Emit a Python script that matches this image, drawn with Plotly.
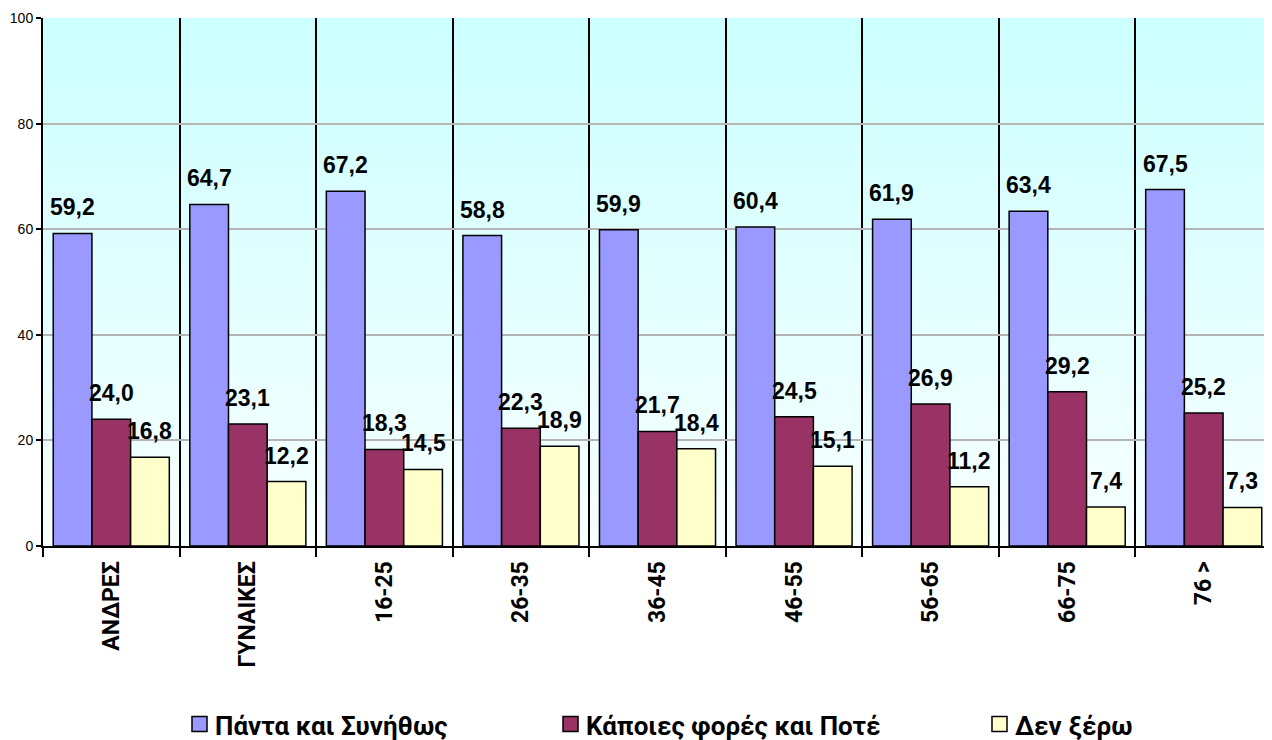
import base64
import plotly.graph_objects as go

categories = ["ΑΝΔΡΕΣ", "ΓΥΝΑΙΚΕΣ", "16-25", "26-35", "36-45", "46-55", "56-65", "66-75", "76 >"]
series_names = ["Πάντα και Συνήθως", "Κάποιες φορές και Ποτέ", "Δεν ξέρω"]
always = [59.2, 64.7, 67.2, 58.8, 59.9, 60.4, 61.9, 63.4, 67.5]
sometimes = [24.0, 23.1, 18.3, 22.3, 21.7, 24.5, 26.9, 29.2, 25.2]
dont_know = [16.8, 12.2, 14.5, 18.9, 18.4, 15.1, 11.2, 7.4, 7.3]
colors = ["#9999FF", "#993366", "#FFFFCC"]
y_ticks = [0, 20, 40, 60, 80, 100]

# page layout (the html body adds an 8px offset)
W, H = 1264, 732
margin = dict(l=35, r=0, t=10, b=194, autoexpand=False)
bargap = 0.15
font_family = "Liberation Sans, Arial, sans-serif"
greek_family = "Roboto, Noto Sans, DejaVu Sans, sans-serif"

series = [always, sometimes, dont_know]

fig = go.Figure()
for name, vals, col in zip(series_names, series, colors):
    fig.add_trace(go.Bar(
        x=categories, y=vals, name=name,
        marker=dict(color=col, line=dict(color="black", width=1.5)),
    ))

plot_w = W - margin["l"] - margin["r"]
plot_h = H - margin["t"] - margin["b"]

# data labels
bar_px = plot_w / len(categories) * (1 - bargap) / len(series)
annotations = []
for si, vals in enumerate(series):
    shift = (si - 1) * bar_px
    for c, v in zip(categories, vals):
        annotations.append(dict(
            x=c, y=v, xref="x", yref="y", text="<b>" + f"{v:.1f}".replace(".", ",") + "</b>",
            showarrow=False, xshift=shift, yshift=11, yanchor="bottom",
            font=dict(family=font_family, size=23, color="black"),
        ))

# custom bottom legend (bold text, Excel-like spacing)
def fx(px):
    return px / plot_w

def fy(py):
    return -py / plot_h

legend_marker_left = [149, 520, 949]      # px from plot-area left edge
legend_center_below = 178                  # px below the x axis
marker_size = 15
shapes = []
for left, name, col in zip(legend_marker_left, series_names, colors):
    shapes.append(dict(
        type="rect", xref="paper", yref="paper",
        x0=fx(left), x1=fx(left + marker_size),
        y0=fy(legend_center_below + marker_size / 2), y1=fy(legend_center_below - marker_size / 2),
        fillcolor=col, line=dict(color="black", width=1.5),
    ))
    annotations.append(dict(
        x=fx(left + marker_size + 6), y=fy(legend_center_below + 2), xref="paper", yref="paper",
        text="<b>" + name + "</b>", showarrow=False, xanchor="left", yanchor="middle",
        font=dict(family=greek_family, size=26, color="black"),
    ))

svg = ('<svg xmlns="http://www.w3.org/2000/svg" width="100" height="100" viewBox="0 0 100 100" '
       'preserveAspectRatio="none"><defs><linearGradient id="g" x1="0" y1="0" x2="0" y2="1">'
       '<stop offset="0" stop-color="#CCFFFF"/><stop offset="1" stop-color="#F8FFFF"/>'
       '</linearGradient></defs><rect x="0" y="0" width="100" height="100" fill="url(#g)"/></svg>')
uri = "data:image/svg+xml;base64," + base64.b64encode(svg.encode()).decode()

fig.update_layout(
    width=W, height=H, margin=margin,
    barmode="group", bargap=bargap, bargroupgap=0,
    paper_bgcolor="white", plot_bgcolor="rgba(0,0,0,0)",
    font=dict(family=font_family, color="black", size=14),
    images=[dict(source=uri, xref="paper", yref="paper", x=0, y=1, sizex=1, sizey=1,
                 sizing="stretch", layer="below", xanchor="left", yanchor="top")],
    annotations=annotations,
    shapes=shapes,
    showlegend=False,
)
fig.update_xaxes(
    type="category", tickson="boundaries", ticks="outside", ticklen=9, tickwidth=2,
    tickcolor="black", showgrid=True, gridcolor="black", gridwidth=1.5,
    showline=True, linecolor="black", linewidth=2, tickangle=-90, automargin=False,
    ticklabelstandoff=4,
    tickfont=dict(family=greek_family, size=23, color="black", weight="bold"),
)
fig.update_yaxes(
    range=[0, 100], tickvals=y_ticks, ticks="outside", ticklen=5, tickwidth=2,
    tickcolor="black", showgrid=True, gridcolor="#B4B4B4", gridwidth=2,
    showline=True, linecolor="black", linewidth=2, zeroline=False, automargin=False,
    tickfont=dict(family=font_family, size=14, color="black"),
)

fig.write_html("out.html")
